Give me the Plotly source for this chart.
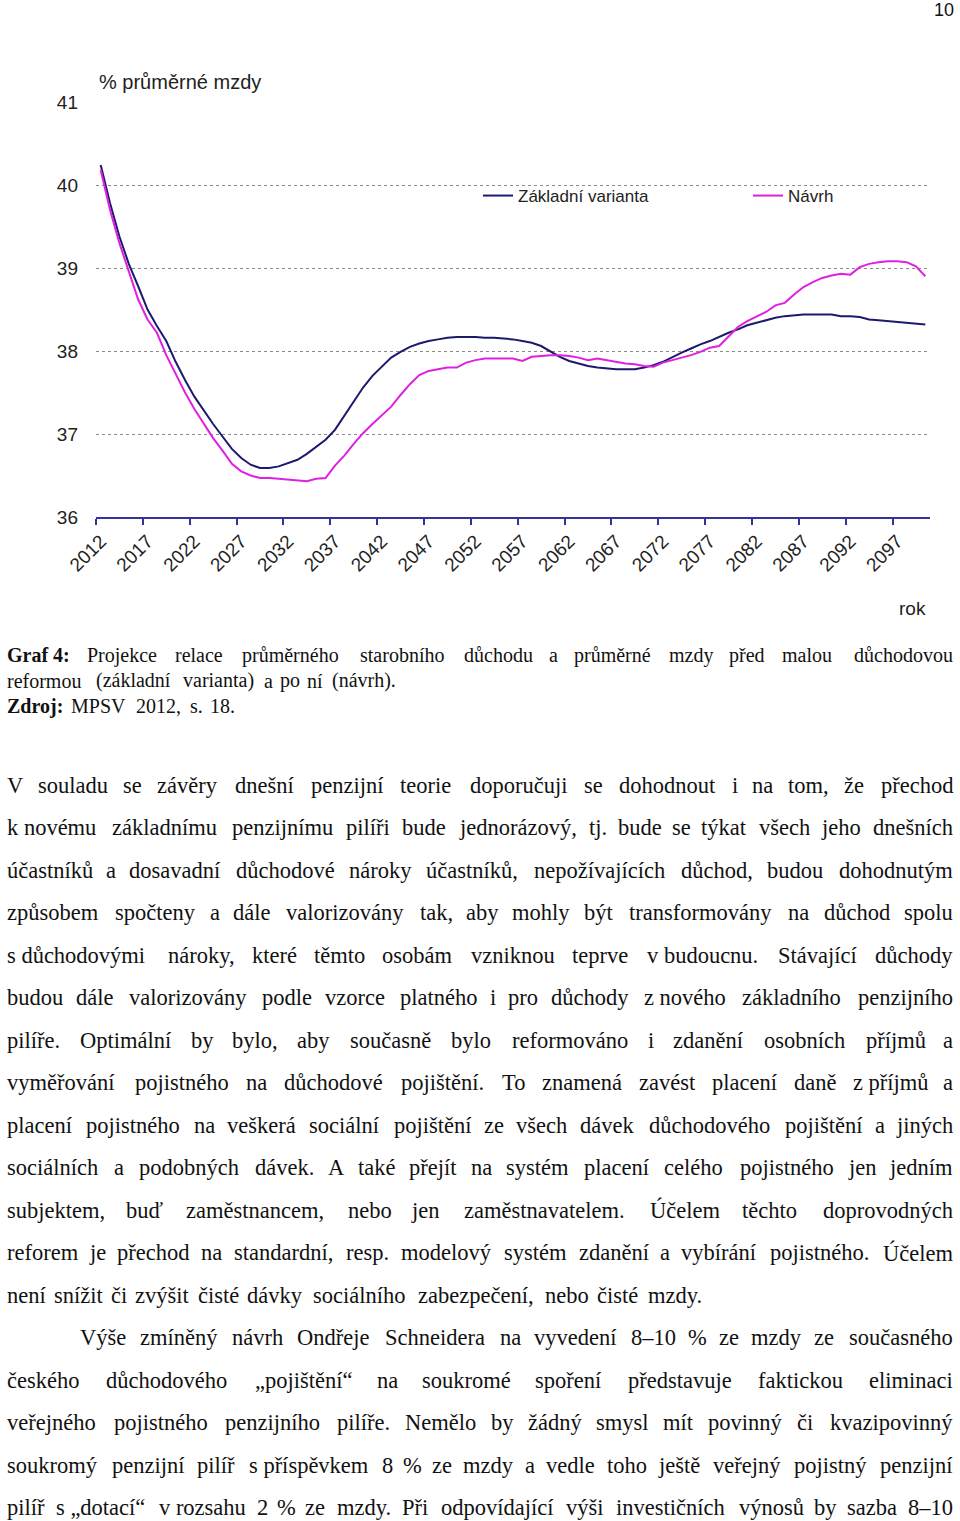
import unicodedata
import plotly.graph_objects as go

# ---------------- data ----------------
years = list(range(2012, 2101))

zakladni = [
    40.24, 39.78, 39.38, 39.05, 38.78, 38.50, 38.30, 38.12, 37.87, 37.65,
    37.45, 37.28, 37.12, 36.97, 36.82, 36.71, 36.63, 36.59, 36.59, 36.61,
    36.65, 36.69, 36.76, 36.84, 36.93, 37.05, 37.22, 37.40, 37.56, 37.70,
    37.81, 37.92, 37.99, 38.05, 38.09, 38.12, 38.14, 38.16, 38.17, 38.17,
    38.17, 38.16, 38.16, 38.15, 38.14, 38.12, 38.10, 38.06, 37.99, 37.93,
    37.88, 37.85, 37.82, 37.80, 37.79, 37.78, 37.78, 37.78, 37.80, 37.83,
    37.87, 37.93, 37.98, 38.03, 38.08, 38.12, 38.17, 38.22, 38.26, 38.31,
    38.34, 38.37, 38.40, 38.42, 38.43, 38.44, 38.44, 38.44, 38.44, 38.42,
    38.42, 38.41, 38.38, 38.37, 38.36, 38.35, 38.34, 38.33, 38.32,
]

navrh = [
    40.18, 39.70, 39.30, 38.95, 38.62, 38.38, 38.22, 37.95, 37.72, 37.50,
    37.30, 37.12, 36.95, 36.80, 36.64, 36.55, 36.50, 36.47, 36.47, 36.46,
    36.45, 36.44, 36.43, 36.46, 36.47, 36.62, 36.74, 36.88, 37.01, 37.12,
    37.23, 37.33, 37.47, 37.60, 37.71, 37.76, 37.78, 37.80, 37.80, 37.86,
    37.89, 37.91, 37.91, 37.91, 37.91, 37.88, 37.93, 37.94, 37.95, 37.95,
    37.94, 37.92, 37.89, 37.91, 37.89, 37.87, 37.85, 37.84, 37.82, 37.81,
    37.86, 37.89, 37.92, 37.95, 37.99, 38.04, 38.06, 38.18, 38.29, 38.36,
    38.42, 38.47, 38.55, 38.58, 38.68, 38.77, 38.83, 38.88, 38.91, 38.93,
    38.92, 39.01, 39.05, 39.07, 39.08, 39.08, 39.07, 39.02, 38.90,
]

series_names = ["Základní varianta", "Návrh"]
tick_years = [2012, 2017, 2022, 2027, 2032, 2037, 2042, 2047, 2052, 2057,
              2062, 2067, 2072, 2077, 2082, 2087, 2092, 2097]
tick_labels = [str(y) for y in tick_years]
y_ticks = [36, 37, 38, 39, 40, 41]
y_title = "% průměrné mzdy"
x_title = "rok"
page_number = "10"

caption_lines = [
    ("*Graf\u00a04: Projekce relace průměrného starobního důchodu a průměrné mzdy před malou důchodovou", True),
    ("reformou (základní varianta) a po ní (návrh).", False),
    ("*Zdroj: MPSV 2012, s. 18.", False),
]

body_lines = [
    ("V souladu se závěry dnešní penzijní teorie doporučuji se dohodnout i na tom, že přechod", True, 0),
    ("k\u00a0novému základnímu penzijnímu pilíři bude jednorázový, tj. bude se týkat všech jeho dnešních", True, 0),
    ("účastníků a dosavadní důchodové nároky účastníků, nepožívajících důchod, budou dohodnutým", True, 0),
    ("způsobem spočteny a dále valorizovány tak, aby mohly být transformovány na důchod spolu", True, 0),
    ("s\u00a0důchodovými nároky, které těmto osobám vzniknou teprve v\u00a0budoucnu. Stávající důchody", True, 0),
    ("budou dále valorizovány podle vzorce platného i pro důchody z\u00a0nového základního penzijního", True, 0),
    ("pilíře. Optimální by bylo, aby současně bylo reformováno i zdanění osobních příjmů a", True, 0),
    ("vyměřování pojistného na důchodové pojištění. To znamená zavést placení daně z\u00a0příjmů a", True, 0),
    ("placení pojistného na veškerá sociální pojištění ze všech dávek důchodového pojištění a jiných", True, 0),
    ("sociálních a podobných dávek. A také přejít na systém placení celého pojistného jen jedním", True, 0),
    ("subjektem, buď zaměstnancem, nebo jen zaměstnavatelem. Účelem těchto doprovodných", True, 0),
    ("reforem je přechod na standardní, resp. modelový systém zdanění a vybírání pojistného. Účelem", True, 0),
    ("není snížit či zvýšit čisté dávky sociálního zabezpečení, nebo čisté mzdy.", False, 0),
    ("Výše zmíněný návrh Ondřeje Schneidera na vyvedení 8–10 % ze mzdy ze současného", True, 73),
    ("českého důchodového „pojištění“ na soukromé spoření představuje faktickou eliminaci", True, 0),
    ("veřejného pojistného penzijního pilíře. Nemělo by žádný smysl mít povinný či kvazipovinný", True, 0),
    ("soukromý penzijní pilíř s\u00a0příspěvkem 8 % ze mzdy a vedle toho ještě veřejný pojistný penzijní", True, 0),
    ("pilíř s\u00a0„dotací“ v\u00a0rozsahu 2 % ze mzdy. Při odpovídající výši investičních výnosů by sazba 8–10", True, 0),
]

# ---------------- page geometry / style ----------------
W, H = 960, 1521
SANS = "Liberation Sans, Arial, sans-serif"
SERIF = "Liberation Serif, Times New Roman, serif"
BLUE = "#1c1a6b"
PINK = "#e020e0"
AXIS = "#333399"
TXT = "#222222"

# approximate Times-like advance widths (per 1000 em) used to lay out justified lines
TW = {' ': 250, 'a': 444, 'b': 500, 'c': 444, 'd': 500, 'e': 444, 'f': 333, 'g': 500, 'h': 500,
      'i': 278, 'j': 278, 'k': 500, 'l': 278, 'm': 778, 'n': 500, 'o': 500, 'p': 500, 'q': 500,
      'r': 333, 's': 389, 't': 278, 'u': 500, 'v': 500, 'w': 722, 'x': 500, 'y': 500, 'z': 444,
      'A': 722, 'B': 667, 'C': 667, 'D': 722, 'E': 611, 'F': 556, 'G': 722, 'H': 722, 'I': 333,
      'J': 389, 'K': 722, 'L': 611, 'M': 889, 'N': 722, 'O': 722, 'P': 556, 'Q': 722, 'R': 667,
      'S': 556, 'T': 611, 'U': 722, 'V': 722, 'W': 944, 'X': 722, 'Y': 722, 'Z': 611,
      '.': 250, ',': 250, ':': 278, ';': 278, '(': 333, ')': 333, '%': 833, '–': 500,
      '„': 444, '“': 444, '-': 333, '\u00a0': 250}


def est_width(tok, em, bold=False):
    total = 0
    for ch in tok:
        base = unicodedata.normalize('NFD', ch)[0]
        total += TW.get(ch, TW.get(base, 500))
    return total / 1000.0 * em * (1.06 if bold else 1.0)


annotations = []


def add_line(text, yc, x0, x1, justify, em, size):
    tokens = text.split(' ')
    bolds = [t.startswith('*') for t in tokens]
    words = [t.lstrip('*') for t in tokens]
    widths = [est_width(w, em, b) for w, b in zip(words, bolds)]
    n = len(words)
    gap = (x1 - x0 - sum(widths)) / (n - 1) if (justify and n > 1) else 0.25 * em
    x = x0
    for i, (w, b, wd) in enumerate(zip(words, bolds, widths)):
        if i == 0:
            ax, anchor = x, 'left'
        elif justify and i == n - 1:
            ax, anchor = x1, 'right'
        else:
            ax, anchor = x + wd / 2.0, 'center'
        annotations.append(dict(
            text=f"<b>{w}</b>" if b else w, x=ax / W, y=1 - yc / H,
            xref='paper', yref='paper', xanchor=anchor, yanchor='middle',
            showarrow=False, font=dict(family=SERIF, size=size, color="#111111")))
        x += wd + gap


# caption
for i, (txt, just) in enumerate(caption_lines):
    add_line(txt, 655 + 25.5 * i, 5, 955, just, 22.0, 20)

# body
for i, (txt, just, indent) in enumerate(body_lines):
    add_line(txt, 785 + 42.5 * i, 5 + indent, 955, just, 23.9, 22.5)

# chart texts
annotations.append(dict(text=y_title, x=97 / W, y=1 - 82 / H, xref='paper', yref='paper',
                        xanchor='left', yanchor='middle', showarrow=False,
                        font=dict(family=SANS, size=20, color=TXT)))
annotations.append(dict(text=x_title, x=928 / W, y=1 - 608 / H, xref='paper', yref='paper',
                        xanchor='right', yanchor='middle', showarrow=False,
                        font=dict(family=SANS, size=19, color=TXT)))
annotations.append(dict(text=page_number, x=956 / W, y=1 - 10 / H, xref='paper', yref='paper',
                        xanchor='right', yanchor='middle', showarrow=False,
                        font=dict(family=SANS, size=18, color="#111111")))

# ---------------- figure ----------------
fig = go.Figure()
fig.add_trace(go.Scatter(x=years, y=zakladni, mode='lines', name=series_names[0],
                         line=dict(color=BLUE, width=2)))
fig.add_trace(go.Scatter(x=years, y=navrh, mode='lines', name=series_names[1],
                         line=dict(color=PINK, width=2)))

fig.update_layout(
    width=W, height=H, autosize=False,
    margin=dict(l=0, r=0, t=0, b=0, pad=0, autoexpand=False),
    paper_bgcolor='white', plot_bgcolor='white',
    showlegend=True,
    legend=dict(orientation='h', x=478 / W, y=1 - 196 / H, xanchor='left', yanchor='middle',
                font=dict(family=SANS, size=17, color=TXT), bgcolor='rgba(0,0,0,0)',
                entrywidth=225, entrywidthmode='pixels', itemwidth=30, borderwidth=0),
    xaxis=dict(domain=[96 / W, 930 / W], range=[2011.5, 2100.5], automargin=False,
               tickmode='array', tickvals=tick_years, ticktext=tick_labels,
               tickangle=-45, ticks='', showgrid=False, zeroline=False,
               showline=True, linecolor=AXIS, linewidth=1.5,
               tickfont=dict(family=SANS, size=19, color=TXT),
               ticklabelstandoff=4,
               minor=dict(tickmode='array', tickvals=[y - 0.5 for y in tick_years],
                          ticks='outside', ticklen=6, tickcolor=AXIS, tickwidth=1.5,
                          showgrid=False)),
    yaxis=dict(domain=[1 - 517 / H, 1 - 102 / H], range=[36, 41], automargin=False,
               tickmode='array', tickvals=y_ticks, ticks='', showline=False, zeroline=False,
               showgrid=True, gridcolor='#8a8a8a', griddash='dot', gridwidth=1,
               tickfont=dict(family=SANS, size=19, color=TXT), ticklabelstandoff=17),
    annotations=annotations,
)

fig.write_html(
    "out.html",
    config={"displayModeBar": False},
    post_script="document.body.style.margin='0';document.body.style.padding='0';"
                "document.body.style.overflow='hidden';",
)
